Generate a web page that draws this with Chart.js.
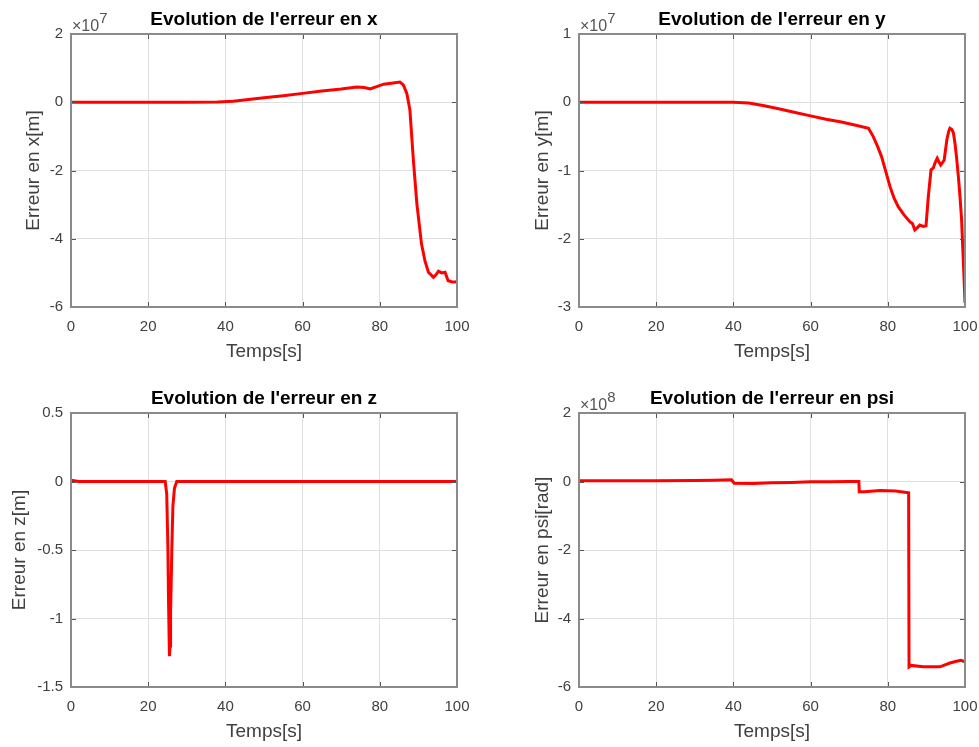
<!DOCTYPE html>
<html>
<head>
<meta charset="utf-8">
<script src="https://cdn.jsdelivr.net/npm/chart.js@4.4.1/dist/chart.umd.min.js"></script>
<style>
  html, body { margin: 0; padding: 0; background: #fff; }
  body { width: 979px; height: 747px; position: relative; overflow: hidden; }
  canvas { position: absolute; }
</style>
</head>
<body>
<canvas id="cx" width="490" height="370" style="left:0;top:0"></canvas>
<canvas id="cy" width="471" height="370" style="left:508px;top:0"></canvas>
<canvas id="cz" width="490" height="371" style="left:0;top:379px"></canvas>
<canvas id="cpsi" width="471" height="371" style="left:508px;top:379px"></canvas>
<script>
// ---- data (x, y in units of 1e7, psi in 1e8) ----
const tX   = [0, 10, 20, 30, 38, 42, 46, 50, 55, 60, 65, 70, 74, 76, 77.5, 79, 81, 83, 85.2, 86.1, 87, 87.4, 87.8, 88.7, 89.6, 90.8, 91.7, 92.6, 93.9, 94.6, 95.2, 96, 96.9, 97.7, 98.6, 99.5, 100];
const errX = [0, 0, 0, 0, 0.01, 0.03, 0.08, 0.13, 0.19, 0.26, 0.33, 0.39, 0.45, 0.43, 0.39, 0.45, 0.53, 0.56, 0.59, 0.51, 0.26, 0.02, -0.23, -1.7, -2.97, -4.15, -4.65, -4.98, -5.13, -5.05, -4.95, -5.0, -4.98, -5.23, -5.26, -5.27, -5.25];

const tY   = [0, 10, 20, 30, 40, 44, 48, 52, 56, 60, 64, 68, 72, 75, 76.2, 77.3, 78.4, 79.5, 80.6, 81.6, 82.7, 84.2, 85.7, 86.4, 87, 87.6, 88.3, 89.2, 89.9, 90.5, 91.2, 91.8, 92.3, 92.8, 93.3, 93.7, 94.2, 94.6, 95.3, 95.8, 96.1, 96.6, 97, 97.4, 97.8, 98.3, 98.7, 99.1, 99.4, 99.7, 100];
const errY = [0, 0, 0, 0, 0, -0.01, -0.05, -0.10, -0.15, -0.20, -0.25, -0.29, -0.34, -0.38, -0.5, -0.64, -0.8, -1.02, -1.24, -1.4, -1.53, -1.65, -1.75, -1.78, -1.87, -1.84, -1.80, -1.82, -1.81, -1.38, -0.99, -0.96, -0.88, -0.82, -0.88, -0.92, -0.88, -0.85, -0.55, -0.42, -0.38, -0.4, -0.45, -0.6, -0.8, -1.1, -1.38, -1.7, -2.11, -2.5, -2.94];

const tZ   = [0, 2, 10, 20, 24.4, 24.8, 25.1, 25.25, 25.5, 25.65, 25.8, 26.1, 26.4, 26.8, 27.4, 40, 60, 80, 100];
const errZ = [0.01, 0, 0, 0, 0, -0.09, -0.48, -0.84, -1.275, -1.2, -0.96, -0.52, -0.18, -0.05, 0, 0, 0, 0, 0];

const tPsi   = [0, 10, 20, 30, 35, 39.5, 40.2, 45, 50, 55, 60, 65, 70, 72.5, 72.6, 74, 78, 82, 85.4, 85.5, 86, 89.2, 93.5, 96.1, 97.8, 99, 100];
const errPsi = [0.02, 0.02, 0.02, 0.03, 0.04, 0.05, -0.05, -0.06, -0.04, -0.03, -0.01, -0.01, 0, 0, -0.3, -0.3, -0.26, -0.28, -0.33, -5.41, -5.37, -5.41, -5.41, -5.30, -5.25, -5.22, -5.27];

const xTicksStep = 20;

const RED = '#ff0000';
const TICK = '#404040';
const GRID = '#e0e0e0';
const FONT = "'Liberation Sans', Arial, sans-serif";
Chart.defaults.font.family = FONT;

// MATLAB-like frame: box, inward ticks, title, exponent
const matlabFrame = {
  id: 'matlabFrame',
  afterDraw(chart, args, opts) {
    const { ctx, chartArea: a, scales } = chart;
    ctx.save();
    ctx.strokeStyle = '#555';
    ctx.lineWidth = 1;
    ctx.beginPath();
    scales.x.ticks.forEach(tk => {
      const px = Math.round(scales.x.getPixelForValue(tk.value)) + 0.5;
      ctx.moveTo(px, a.bottom); ctx.lineTo(px, a.bottom - 5);
      ctx.moveTo(px, a.top); ctx.lineTo(px, a.top + 5);
    });
    scales.y.ticks.forEach(tk => {
      const py = Math.round(scales.y.getPixelForValue(tk.value)) + 0.5;
      ctx.moveTo(a.left, py); ctx.lineTo(a.left + 5, py);
      ctx.moveTo(a.right, py); ctx.lineTo(a.right - 5, py);
    });
    ctx.stroke();

    ctx.strokeStyle = '#8a8a8a';
    ctx.lineWidth = 2;
    ctx.strokeRect(a.left, a.top, a.right - a.left, a.bottom - a.top);

    ctx.fillStyle = '#000';
    ctx.font = 'bold 19px ' + FONT;
    ctx.textAlign = 'center';
    ctx.textBaseline = 'alphabetic';
    ctx.fillText(opts.title, (a.left + a.right) / 2, a.top - 9);

    if (opts.exp) {
      ctx.fillStyle = '#555';
      ctx.font = '16px ' + FONT;
      ctx.textAlign = 'left';
      ctx.fillText('×10', a.left + 1, a.top - 3);
      const w = ctx.measureText('×10').width;
      ctx.font = '15px ' + FONT;
      ctx.fillText(opts.exp, a.left + 1 + w, a.top - 11);
    }
    ctx.restore();
  }
};

function panel(id, o) {
  return new Chart(document.getElementById(id), {
    type: 'line',
    data: {
      datasets: [{
        data: o.t.map((t, i) => ({ x: t, y: o.v[i] })),
        borderColor: RED,
        borderWidth: 3,
        pointRadius: 0,
        tension: 0,
        fill: false
      }]
    },
    options: {
      responsive: false,
      animation: false,
      layout: { padding: { top: 34, right: o.right, left: 0, bottom: 0 } },
      plugins: {
        legend: { display: false },
        tooltip: { enabled: false },
        matlabFrame: { title: o.title, exp: o.exp }
      },
      scales: {
        x: {
          type: 'linear', min: 0, max: 100,
          ticks: { stepSize: xTicksStep, padding: 11, color: TICK, font: { size: 15 } },
          grid: { color: GRID, drawTicks: false },
          border: { display: false },
          title: { display: true, text: 'Temps[s]', color: TICK, font: { size: 19 }, padding: { top: 0, bottom: 6.6 } },
          afterFit: s => { s.height = 63; s.paddingLeft = 0; s.paddingRight = 0; }
        },
        y: {
          type: 'linear', min: o.min, max: o.max,
          ticks: {
            stepSize: o.step, padding: 8, color: TICK, font: { size: 15 },
            callback: v => String(Math.round(v * 10) / 10)
          },
          grid: { color: GRID, drawTicks: false },
          border: { display: false },
          title: { display: true, text: o.ylabel, color: TICK, font: { size: 19 }, padding: { top: o.yPad, bottom: 0 } },
          afterFit: s => { s.width = 71; s.paddingTop = 0; s.paddingBottom = 0; }
        }
      }
    },
    plugins: [matlabFrame]
  });
}

panel('cx', { t: tX, v: errX, min: -6, max: 2, step: 2, right: 33, yPad: 22.6,
  title: "Evolution de l'erreur en x", ylabel: 'Erreur en x[m]', exp: '7' });
panel('cy', { t: tY, v: errY, min: -3, max: 1, step: 1, right: 14, yPad: 23.6,
  title: "Evolution de l'erreur en y", ylabel: 'Erreur en y[m]', exp: '7' });
panel('cz', { t: tZ, v: errZ, min: -1.5, max: 0.5, step: 0.5, right: 33, yPad: 8.6,
  title: "Evolution de l'erreur en z", ylabel: 'Erreur en z[m]' });
panel('cpsi', { t: tPsi, v: errPsi, min: -6, max: 2, step: 2, right: 14, yPad: 23.1,
  title: "Evolution de l'erreur en psi", ylabel: 'Erreur en psi[rad]', exp: '8' });
</script>
</body>
</html>
